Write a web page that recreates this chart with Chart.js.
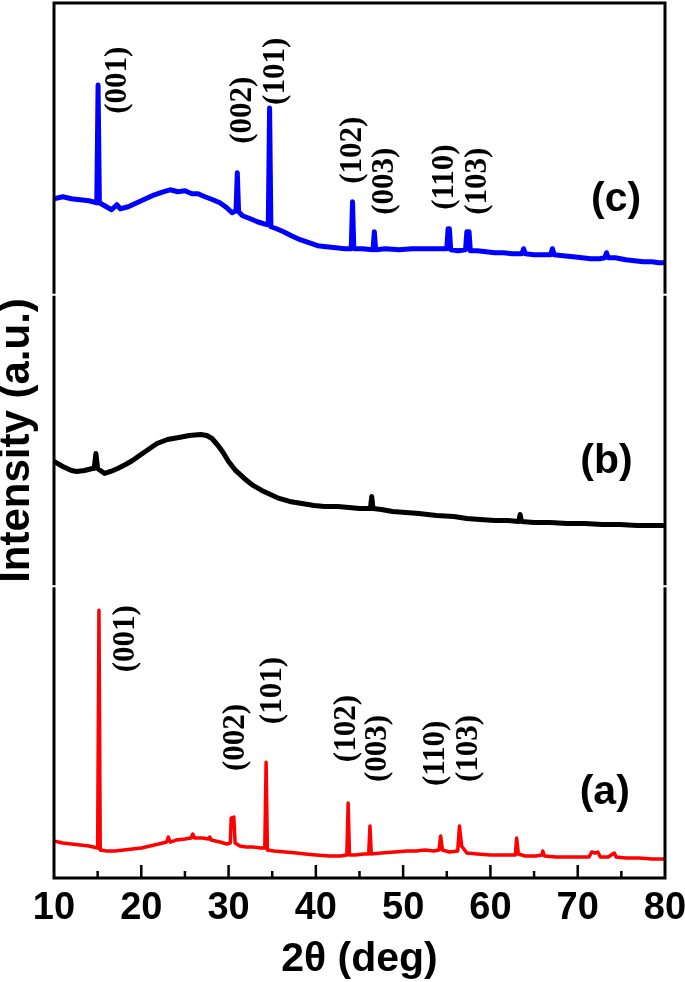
<!DOCTYPE html>
<html>
<head>
<meta charset="utf-8">
<script src="https://cdn.jsdelivr.net/npm/chart.js@4.4.1/dist/chart.umd.min.js"></script>
<style>
html, body { margin: 0; padding: 0; background: #fff; }
#wrap { width: 685px; height: 982px; }
</style>
</head>
<body>
<div id="wrap"><canvas id="xrd"></canvas></div>
<script>
// XRD patterns, [2theta, intensity a.u.]
const patternA = [[10,37],[11,35],[12,34],[13,33],[14,32],[15.0,30],[15.15,268],[15.3,28],[16,27],[17,27],[18,28],[19,29],[20,30],[21,32],[22,34],[22.9,36],[23.1,41],[23.3,36],[24,38],[25,39],[25.7,40],[25.9,44],[26.1,40],[27,40],[27.7,39],[27.85,41],[28,38],[29,36],[29.8,34],[30.2,35],[30.3,60],[30.6,61],[30.75,35],[31.3,32],[32,31],[32.8,31],[33.7,30],[34.15,30],[34.3,116],[34.45,28],[35.2,27],[36.5,26],[37.8,25],[38.8,24],[40,23],[41.5,22],[42.8,22],[43.55,23],[43.7,75],[43.85,23],[44.5,23],[45.5,24],[46.05,24],[46.2,52],[46.35,24],[47.5,25],[49,26],[50.5,27],[51.5,27],[52.5,28],[53.5,27],[54.1,28],[54.3,42],[54.5,28],[55.3,26],[56.25,27],[56.45,52],[56.7,32],[57.3,25],[58.5,24],[60,23],[61.3,23],[62.85,23],[63.0,40],[63.2,24],[64,22],[65.2,22],[65.9,23],[66.0,27],[66.2,22],[67.5,21],[68.8,21],[70,21],[71.3,21],[71.6,26],[72.0,25],[72.3,26],[72.6,21],[73.5,21],[74.0,24],[74.2,25],[74.4,21],[75.5,20],[77,20],[78.5,19],[80,19]];

const patternB = [[10,125],[11,120],[12,116],[12.6,115],[13.5,116],[14.4,118],[14.6,118],[14.8,133],[15.0,118],[15.8,113],[16.5,115],[17.3,118],[18.2,122],[19,126],[19.8,131],[20.8,137],[21.8,143],[23,147],[24.3,149],[25.5,151],[26.8,152],[27.5,151],[28.1,148],[28.7,142],[29.3,135],[30,125],[30.8,116],[31.8,108],[32.8,101],[33.8,96],[34.8,92],[35.8,88],[37,85],[38.4,83],[39.8,81],[41,80],[42.5,80],[43.8,79],[45,78],[46.25,78],[46.4,90],[46.55,78],[47.5,77],[48.8,75],[50.3,74],[51.8,73],[53.8,71],[55.8,70],[57.3,68],[58.8,67],[60.5,66],[62,66],[63.25,65],[63.4,72],[63.55,65],[65,64],[66.8,64],[68.8,63],[70.8,63],[72.8,62],[74.8,62],[76.8,61],[78.5,61],[80,61]];

const patternC = [[10,96],[11,98],[12,96],[13,95],[14,94],[14.9,92],[15.05,210],[15.2,92],[16,88],[16.6,85],[17.2,90],[17.6,86],[18.5,88],[19.5,92],[20.5,96],[21.5,100],[22.5,103],[23.3,105],[24.2,103],[25,104],[25.8,101],[26.5,101],[27.3,98],[28.2,95],[29,92],[29.8,87],[30.4,82],[30.85,84],[31.0,122],[31.15,83],[31.6,79],[32.5,76],[33.3,73],[34.0,71],[34.55,70],[34.7,187],[34.85,68],[35.5,66],[36.3,63],[37.2,59],[38.2,55],[39.2,52],[40.2,49],[41.2,48],[42.3,47],[43.3,46],[44.05,46],[44.2,93],[44.35,46],[45.3,46],[46.55,45],[46.7,63],[46.85,45],[48,46],[49.5,45],[51,46],[52.5,46],[54,46],[55.0,46],[55.15,66],[55.3,66],[55.45,45],[56.3,44],[57.15,45],[57.3,63],[57.55,63],[57.7,44],[58.5,44],[59.5,43],[60.5,42],[61.5,42],[62.5,41],[63.6,41],[63.8,46],[64.0,41],[65,40],[66.2,40],[66.9,40],[67.1,46],[67.3,40],[68.3,39],[69.5,38],[70.5,37],[71.5,36],[72.5,36],[73.1,37],[73.3,42],[73.5,37],[74.3,37],[75.5,35],[76.5,34],[77.5,33],[78.5,33],[79.3,32],[80,32]];

// Miller index labels: centre 2theta and intensity at the label's lower end
const hklLabels = ['(001)', '(002)', '(101)', '(102)', '(003)', '(110)', '(103)'];
const hklThetaA = [18.2, 30.9, 35.1, 43.6, 47.1, 53.8, 57.5];
const hklBaseA = [206, 107, 154, 116, 96, 92, 96];
const hklThetaC = [17.3, 31.7, 35.4, 44.3, 47.9, 54.8, 58.6];
const hklBaseC = [181, 151, 190, 111, 80, 85, 80];

const panelNames = ['(a)', '(b)', '(c)'];
const panelTheta = [73.1, 73.3, 74.4];
const panelLevel = [85, 125, 95];

const xTicks = [10, 20, 30, 40, 50, 60, 70, 80];

const toXY = arr => arr.map(([x, y]) => ({x: x, y: y}));
const SANS = "'Liberation Sans', Arial, sans-serif";
const SERIF = "'Liberation Serif', 'Times New Roman', serif";

const frame = {
  id: 'frame',
  afterDatasetsDraw(chart) {
    const {ctx, chartArea: a, scales} = chart;
    ctx.save();
    ctx.strokeStyle = '#000';
    ctx.lineWidth = 3;
    ctx.beginPath();
    ctx.moveTo(a.left - 1.5, a.top);
    ctx.lineTo(a.right + 1.5, a.top);
    ctx.moveTo(a.left - 1.5, a.bottom);
    ctx.lineTo(a.right + 1.5, a.bottom);
    ['yA', 'yB', 'yC'].forEach(id => {
      const s = scales[id];
      ctx.moveTo(a.left, s.top + 1);
      ctx.lineTo(a.left, s.bottom - 1);
      ctx.moveTo(a.right, s.top + 1);
      ctx.lineTo(a.right, s.bottom - 1);
    });
    ctx.stroke();
    // inward ticks on the 2theta axis, minor every 5
    ctx.lineWidth = 2.5;
    ctx.beginPath();
    for (let t = 15; t < 80; t += 5) {
      const px = scales.x.getPixelForValue(t);
      const len = t % 10 === 0 ? 13 : 7;
      ctx.moveTo(px, a.bottom);
      ctx.lineTo(px, a.bottom - len);
    }
    ctx.stroke();
    ctx.restore();
  }
};

const labels = {
  id: 'labels',
  afterDatasetsDraw(chart) {
    const {ctx, scales} = chart;
    const x = scales.x;
    ctx.save();
    ctx.fillStyle = '#000';
    ctx.font = 'bold 31px ' + SERIF;
    ctx.textAlign = 'left';
    ctx.textBaseline = 'middle';
    const drawSet = (thetas, bases, ys) => {
      hklLabels.forEach((txt, i) => {
        ctx.save();
        ctx.translate(x.getPixelForValue(thetas[i]), ys.getPixelForValue(bases[i]));
        ctx.rotate(-Math.PI / 2);
        ctx.fillText(txt, 0, 0);
        ctx.restore();
      });
    };
    drawSet(hklThetaA, hklBaseA, scales.yA);
    drawSet(hklThetaC, hklBaseC, scales.yC);
    ctx.font = 'bold 41px ' + SANS;
    ctx.textAlign = 'center';
    ['yA', 'yB', 'yC'].forEach((id, i) => {
      ctx.fillText(panelNames[i], x.getPixelForValue(panelTheta[i]), scales[id].getPixelForValue(panelLevel[i]));
    });
    ctx.restore();
  }
};

const panelAxis = (extra) => Object.assign({
  type: 'linear',
  position: 'left',
  stack: 'xrd',
  stackWeight: 1,
  min: 0,
  max: 292,
  ticks: { display: false },
  grid: { display: false, drawTicks: false },
  border: { display: false },
  afterFit(s) { s.width = 54; }
}, extra);

new Chart(document.getElementById('xrd'), {
  type: 'line',
  data: {
    datasets: [
      { label: '(a)', data: toXY(patternA), yAxisID: 'yA', borderColor: '#ff0000', borderWidth: 3.5 },
      { label: '(b)', data: toXY(patternB), yAxisID: 'yB', borderColor: '#000000', borderWidth: 5 },
      { label: '(c)', data: toXY(patternC), yAxisID: 'yC', borderColor: '#0000ff', borderWidth: 5 }
    ]
  },
  options: {
    responsive: true,
    maintainAspectRatio: false,
    animation: false,
    layout: { padding: { top: 3, right: 0, bottom: 0, left: 0 } },
    elements: { point: { radius: 0 }, line: { tension: 0, borderJoinStyle: 'round' } },
    plugins: { legend: { display: false }, tooltip: { enabled: false } },
    scales: {
      x: {
        type: 'linear',
        min: 10,
        max: 80,
        afterBuildTicks(s) { s.ticks = xTicks.map(v => ({value: v})); },
        ticks: { color: '#000', padding: 8, maxRotation: 0, font: { family: SANS, size: 38, weight: 'bold' } },
        grid: { display: false, drawTicks: false },
        border: { display: false },
        title: { display: true, text: '2θ (deg)', color: '#000', padding: { top: 0, bottom: 2 },
                 font: { family: SANS, size: 41, weight: 'bold', lineHeight: 1 } },
        afterFit(s) { s.height = 104; s.paddingLeft = 0; s.paddingRight = 20; }
      },
      yA: panelAxis({}),
      yB: panelAxis({
        title: { display: true, text: 'Intensity (a.u.)', color: '#000', padding: { top: 0, bottom: 0 },
                 font: { family: SANS, size: 42, weight: 'bold', lineHeight: 0.85 } }
      }),
      yC: panelAxis({})
    }
  },
  plugins: [frame, labels]
});
</script>
</body>
</html>
